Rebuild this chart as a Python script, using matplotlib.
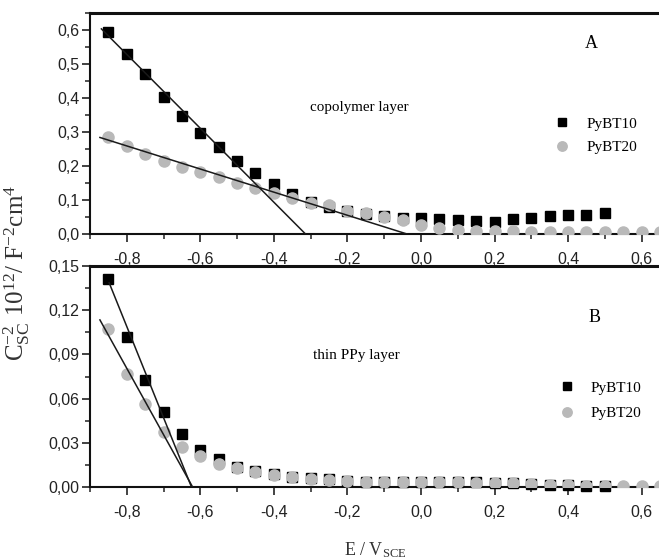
import numpy as np
import matplotlib
matplotlib.use("Agg")
import matplotlib.pyplot as plt
from matplotlib.ticker import MultipleLocator, FuncFormatter

plt.rcParams['axes.unicode_minus'] = False
plt.rcParams['mathtext.fontset'] = 'custom'
plt.rcParams['mathtext.rm'] = 'Liberation Serif'
plt.rcParams['mathtext.it'] = 'Liberation Serif:italic'

# potentials (V vs SCE)
e10 = [-0.85, -0.80, -0.75, -0.70, -0.65, -0.60, -0.55, -0.50, -0.45, -0.40,
       -0.35, -0.30, -0.25, -0.20, -0.15, -0.10, -0.05, 0.00, 0.05, 0.10,
       0.15, 0.20, 0.25, 0.30, 0.35, 0.40, 0.45, 0.50]
e20 = e10 + [0.55, 0.60, 0.65]

# panel A, copolymer layer
a_pybt10 = [0.595, 0.53, 0.47, 0.404, 0.348, 0.298, 0.255, 0.214, 0.18, 0.146,
            0.117, 0.093, 0.079, 0.068, 0.060, 0.053, 0.048, 0.046, 0.043, 0.041,
            0.039, 0.036, 0.044, 0.046, 0.053, 0.056, 0.056, 0.061]
a_pybt20 = [0.286, 0.26, 0.234, 0.214, 0.198, 0.181, 0.167, 0.149, 0.134, 0.12,
            0.105, 0.092, 0.084, 0.067, 0.063, 0.051, 0.041, 0.026, 0.017, 0.012,
            0.009, 0.008, 0.008, 0.007, 0.007, 0.007, 0.006, 0.006, 0.006, 0.006, 0.005]

# panel B, thin PPy layer
b_pybt10 = [0.141, 0.102, 0.0726, 0.0507, 0.0358, 0.0253, 0.0188, 0.0138, 0.0109, 0.0086,
            0.0070, 0.0059, 0.0052, 0.0043, 0.0037, 0.0036, 0.0036, 0.0034, 0.0033, 0.0032,
            0.0032, 0.0030, 0.0025, 0.0019, 0.0015, 0.0014, 0.0010, 0.0009]
b_pybt20 = [0.107, 0.0765, 0.056, 0.037, 0.027, 0.021, 0.0154, 0.0127, 0.0100, 0.0081,
            0.0066, 0.0055, 0.0049, 0.0043, 0.0037, 0.0036, 0.0035, 0.0033, 0.0032, 0.0031,
            0.0030, 0.0028, 0.0024, 0.0018, 0.0014, 0.0013, 0.0010, 0.0009, 0.0007, 0.0006, 0.0005]

# Mott-Schottky fits: start potential, flat band potential, slope
a_fit_start = [-0.869, -0.873]
a_fit_efb = [-0.314, -0.038]
a_fit_slope = [-1.087, -0.34]
b_fit_start = [-0.848, -0.873]
b_fit_efb = [-0.624, -0.621]
b_fit_slope = [-0.619, -0.45]

W, H = 659, 559
fig = plt.figure(figsize=(W / 100, H / 100), dpi=100)
ax1 = fig.add_axes([90 / W, 1 - 234 / H, 570 / W, 221 / H])
ax2 = fig.add_axes([90 / W, 1 - 487 / H, 570 / W, 221 / H])

grey = '#b9b9b9'
serif = 'Liberation Serif'


def comma(fmt):
    return FuncFormatter(lambda v, p: (fmt % v).replace('.', ','))


def draw(ax, y10, y20, starts, efbs, slopes, ymax, ymaj, yfmt):
    ax.plot(e10, y10, 's', color='black', ms=7.4, label='PyBT10', clip_on=False, zorder=3)
    ax.plot(e20, y20, 'o', color=grey, ms=8, label='PyBT20', zorder=4)
    for s, efb, k in zip(starts, efbs, slopes):
        xs = np.array([s, efb])
        ax.plot(xs, k * (xs - efb), color='#1a1a1a', lw=1.1, zorder=5)
    ax.set_xlim(-0.9, 0.65)
    ax.set_ylim(0, ymax)
    ax.xaxis.set_major_locator(MultipleLocator(0.2))
    ax.xaxis.set_minor_locator(MultipleLocator(0.1))
    ax.yaxis.set_major_locator(MultipleLocator(ymaj))
    ax.yaxis.set_minor_locator(MultipleLocator(ymaj / 2))
    ax.xaxis.set_major_formatter(comma('%.1f'))
    ax.yaxis.set_major_formatter(comma(yfmt))
    ax.tick_params(which='major', direction='out', length=6, width=1.2,
                   labelsize=11.5, colors='#222222')
    ax.tick_params(axis='x', which='major', pad=7)
    ax.tick_params(axis='y', which='major', pad=1.5)
    ax.tick_params(which='minor', direction='out', length=3.5, width=1.1, colors='#222222')
    for lab in ax.get_xticklabels() + ax.get_yticklabels():
        lab.set_fontfamily('Liberation Sans')
    ax.spines['right'].set_visible(False)
    for sp in ['left', 'bottom']:
        ax.spines[sp].set_linewidth(1.5)
        ax.spines[sp].set_color('#111111')
    ax.spines['top'].set_linewidth(2.2)
    ax.spines['top'].set_color('#111111')
    ax.set_facecolor('none')


draw(ax1, a_pybt10, a_pybt20, a_fit_start, a_fit_efb, a_fit_slope, 0.65, 0.1, '%.1f')
draw(ax2, b_pybt10, b_pybt20, b_fit_start, b_fit_efb, b_fit_slope, 0.15, 0.03, '%.2f')

leg_kw = dict(loc='upper left', bbox_transform=fig.transFigure, frameon=False,
              numpoints=1, handlelength=1.0, borderpad=0, borderaxespad=0,
              markerscale=0.85, prop={'family': serif, 'size': 11})
ax1.legend(bbox_to_anchor=(554 / W, 1 - 117 / H), handletextpad=1.13,
           labelspacing=0.65, **leg_kw)
ax2.legend(bbox_to_anchor=(559 / W, 1 - 381 / H), handletextpad=1.07,
           labelspacing=0.78, **leg_kw)

fig.text(591 / W, 1 - 43 / H, 'A', family=serif, fontsize=13, ha='center', va='center')
fig.text(595 / W, 1 - 317 / H, 'B', family=serif, fontsize=13, ha='center', va='center')
fig.text(310 / W, 1 - 108 / H, 'copolymer layer', family=serif, fontsize=10.8,
         ha='left', va='center')
fig.text(313 / W, 1 - 356 / H, 'thin PPy layer', family=serif, fontsize=11,
         ha='left', va='center')

fig.text(17 / W, 1 - 273 / H, r'C$_{\rm SC}^{-2}$ 10$^{12}$/ F$^{-2}$cm$^{4}$', family=serif,
         fontsize=18, rotation=90, ha='center', va='center', color='#333333')
fig.text(375 / W, 1 - 555 / H, r'E / V$_{\rm SCE}$', family=serif, fontsize=13,
         ha='center', va='baseline', color='#333333')

fig.savefig('out.png', dpi=100)
